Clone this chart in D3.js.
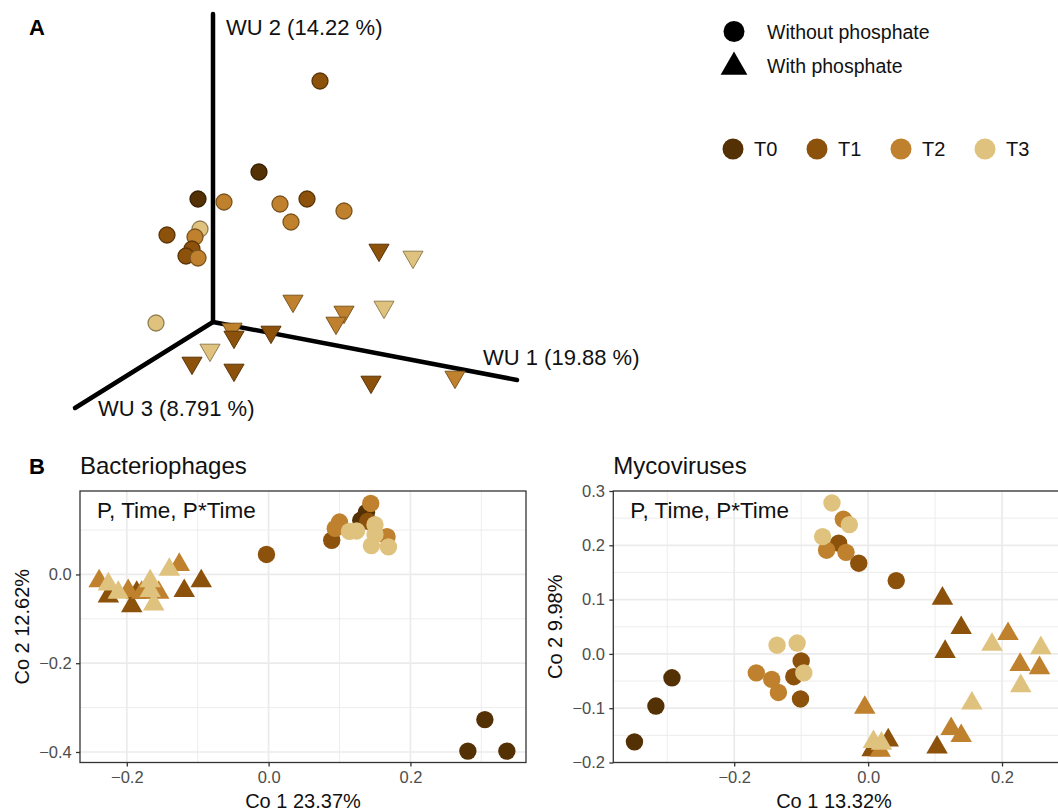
<!DOCTYPE html>
<html>
<head>
<meta charset="utf-8">
<script src="https://cdn.jsdelivr.net/npm/d3@7"></script>
<style>
  body { margin: 0; background: #fff; }
  svg { display: block; font-family: "Liberation Sans", Arial, Helvetica, sans-serif; }
</style>
</head>
<body>
<svg id="chart" width="1058" height="812"></svg>
<script>
// time points (BrBG browns)
let timeLabels = ["T0", "T1", "T2", "T3"];
let timeColors = ["#543005", "#8c510a", "#bf812d", "#dfc27d"];
let shapeLabels = ["Without phosphate", "With phosphate"];

// Panel A - 3D PCoA, points already projected on the page plane (origin = where the axes meet)
let pcoaAxisNames = ["WU 1 (19.88 %)", "WU 2 (14.22 %)", "WU 3 (8.791 %)"];
let pcoaAxisEnds = [[3.04, -0.58], [0, 3.08], [-1.38, -0.86]];
// [u, v, time]
let pcoaCircles = [
  [1.07, 2.41, 1], [0.46, 1.50, 0], [-0.15, 1.23, 0], [0.11, 1.20, 2], [0.67, 1.18, 2],
  [0.94, 1.23, 1], [0.78, 1.00, 2], [1.31, 1.11, 2], [-0.46, 0.87, 1], [-0.13, 0.93, 3],
  [-0.18, 0.85, 2], [-0.21, 0.73, 1], [-0.27, 0.66, 1], [-0.15, 0.64, 2], [-0.57, -0.01, 3]
];
let pcoaTriangles = [
  [1.66, 0.72, 1], [2.00, 0.65, 3], [0.80, 0.21, 2], [1.31, 0.10, 2], [1.23, -0.01, 2],
  [1.71, 0.15, 3], [0.19, -0.07, 2], [0.21, -0.15, 1], [0.58, -0.10, 1], [-0.03, -0.28, 3],
  [-0.21, -0.41, 1], [0.21, -0.48, 1], [1.58, -0.60, 1], [2.42, -0.55, 2]
];

// Panel B - Bacteriophages [Co1, Co2, time]
let phageCircles = [
  [0.305, -0.327, 0], [0.281, -0.398, 0], [0.336, -0.398, 0], [0.138, 0.140, 0], [0.130, 0.122, 0],
  [-0.003, 0.045, 1], [0.089, 0.077, 1], [0.140, 0.120, 1],
  [0.144, 0.160, 2], [0.100, 0.118, 2], [0.094, 0.104, 2], [0.167, 0.085, 2],
  [0.114, 0.097, 3], [0.124, 0.098, 3], [0.150, 0.112, 3], [0.150, 0.090, 3], [0.145, 0.065, 3], [0.169, 0.062, 3]
];
let phageTriangles = [
  [-0.226, -0.049, 1], [-0.186, -0.041, 1], [-0.193, -0.071, 1], [-0.119, -0.037, 1], [-0.095, -0.015, 1],
  [-0.239, -0.015, 2], [-0.198, -0.037, 2], [-0.179, -0.041, 2], [-0.155, -0.041, 2], [-0.126, 0.022, 2],
  [-0.226, -0.022, 3], [-0.212, -0.041, 3], [-0.167, -0.015, 3], [-0.167, -0.037, 3], [-0.162, -0.067, 3], [-0.140, 0.011, 3]
];
let phageXTicks = [-0.2, 0.0, 0.2];
let phageYTicks = [-0.4, -0.2, 0.0];

// Panel B - Mycoviruses [Co1, Co2, time]
let mycoCircles = [
  [-0.293, -0.044, 0], [-0.317, -0.096, 0], [-0.349, -0.162, 0],
  [-0.044, 0.204, 1], [-0.014, 0.167, 1], [0.042, 0.135, 1], [-0.100, -0.013, 1], [-0.111, -0.042, 1], [-0.101, -0.083, 1],
  [-0.037, 0.248, 2], [-0.062, 0.191, 2], [-0.033, 0.187, 2], [-0.167, -0.035, 2], [-0.144, -0.047, 2], [-0.134, -0.071, 2],
  [-0.054, 0.278, 3], [-0.028, 0.238, 3], [-0.068, 0.216, 3], [-0.136, 0.016, 3], [-0.106, 0.020, 3], [-0.096, -0.035, 3]
];
let mycoTriangles = [
  [0.111, 0.102, 1], [0.139, 0.048, 1], [0.115, 0.004, 1], [0.103, -0.172, 1], [0.030, -0.159, 1], [0.006, -0.177, 1],
  [0.209, 0.037, 2], [0.227, -0.020, 2], [0.256, -0.026, 2], [-0.005, -0.099, 2], [0.124, -0.138, 2], [0.139, -0.151, 2], [0.018, -0.178, 2],
  [0.185, 0.017, 3], [0.258, 0.011, 3], [0.228, -0.059, 3], [0.155, -0.091, 3], [0.008, -0.162, 3], [0.020, -0.165, 3]
];
let mycoXTicks = [-0.2, 0.0, 0.2];
let mycoYTicks = [-0.2, -0.1, 0.0, 0.1, 0.2, 0.3];

let svg = d3.select("#chart");

// ---------- panel A ----------
let xA = d3.scaleLinear().domain([0, 1]).range([213, 313]);
let yA = d3.scaleLinear().domain([0, 1]).range([322, 222]);

svg.append("text").attr("x", 29).attr("y", 35)
  .style("font-weight", "bold").style("font-size", "22px").text("A");

let gA = svg.append("g");
pcoaAxisEnds.forEach(function(e) {
  gA.append("line")
    .attr("x1", xA(0)).attr("y1", yA(0))
    .attr("x2", xA(e[0])).attr("y2", yA(e[1]))
    .attr("stroke", "#000").attr("stroke-width", 4.5).attr("stroke-linecap", "round");
});

let axisLabelPos = [[483, 365], [226, 35], [98, 416]];
pcoaAxisNames.forEach(function(name, i) {
  gA.append("text").attr("x", axisLabelPos[i][0]).attr("y", axisLabelPos[i][1])
    .style("font-size", "22px").attr("fill", "#111").text(name);
});

let downTri = d3.symbol().type(d3.symbolTriangle).size(175);
gA.selectAll(".tA").data(pcoaTriangles).join("path")
  .attr("d", downTri)
  .attr("transform", d => "translate(" + xA(d[0]) + "," + yA(d[1]) + ") rotate(180)")
  .attr("fill", d => timeColors[d[2]])
  .attr("stroke", d => d3.color(timeColors[d[2]]).darker(1.2))
  .attr("stroke-width", 1);

gA.selectAll(".cA").data(pcoaCircles).join("circle")
  .attr("cx", d => xA(d[0])).attr("cy", d => yA(d[1])).attr("r", 8)
  .attr("fill", d => timeColors[d[2]])
  .attr("stroke", d => d3.color(timeColors[d[2]]).darker(1.2))
  .attr("stroke-width", 1.3);

// ---------- legends ----------
let leg = svg.append("g");
leg.append("circle").attr("cx", 734).attr("cy", 31.5).attr("r", 10.5).attr("fill", "#000");
leg.append("path").attr("d", d3.symbol().type(d3.symbolTriangle).size(310))
  .attr("transform", "translate(734,67)").attr("fill", "#000");
shapeLabels.forEach(function(s, i) {
  leg.append("text").attr("x", 767).attr("y", 38.5 + i * 34.5)
    .style("font-size", "19.5px").attr("fill", "#111").text(s);
});

let colLegX = [733, 817, 901, 985];
timeLabels.forEach(function(t, i) {
  leg.append("circle").attr("cx", colLegX[i]).attr("cy", 149).attr("r", 10.5).attr("fill", timeColors[i]);
  leg.append("text").attr("x", colLegX[i] + 21).attr("y", 156)
    .style("font-size", "20px").attr("fill", "#111").text(t);
});

// ---------- panel B ----------
svg.append("text").attr("x", 29).attr("y", 474)
  .style("font-weight", "bold").style("font-size", "22px").text("B");

function minorTicks(ticks, domain) {
  let step = ticks[1] - ticks[0];
  let out = [];
  for (let i = -1; i < ticks.length; i++) {
    let m = ticks[0] + step * (i + 0.5);
    if (m > domain[0] && m < domain[1]) out.push(m);
  }
  return out;
}

function drawScatter(p) {
  let x = d3.scaleLinear().domain(p.xDomain).range([p.left, p.right]);
  let y = d3.scaleLinear().domain(p.yDomain).range([p.bottom, p.top]);
  let g = svg.append("g");

  g.append("defs").append("clipPath").attr("id", p.id)
    .append("rect").attr("x", p.left).attr("y", p.top)
    .attr("width", p.right - p.left).attr("height", p.bottom - p.top);

  // grid
  let grid = g.append("g");
  minorTicks(p.xTicks, p.xDomain).forEach(function(v) {
    grid.append("line").attr("x1", x(v)).attr("x2", x(v)).attr("y1", p.top).attr("y2", p.bottom)
      .attr("stroke", "#ebebeb").attr("stroke-width", 0.9);
  });
  minorTicks(p.yTicks, p.yDomain).forEach(function(v) {
    grid.append("line").attr("y1", y(v)).attr("y2", y(v)).attr("x1", p.left).attr("x2", p.right)
      .attr("stroke", "#ebebeb").attr("stroke-width", 0.9);
  });
  p.xTicks.forEach(function(v) {
    grid.append("line").attr("x1", x(v)).attr("x2", x(v)).attr("y1", p.top).attr("y2", p.bottom)
      .attr("stroke", "#ebebeb").attr("stroke-width", 1.7);
  });
  p.yTicks.forEach(function(v) {
    grid.append("line").attr("y1", y(v)).attr("y2", y(v)).attr("x1", p.left).attr("x2", p.right)
      .attr("stroke", "#ebebeb").attr("stroke-width", 1.7);
  });

  // points
  let pts = g.append("g").attr("clip-path", "url(#" + p.id + ")");
  let tri = d3.symbol().type(d3.symbolTriangle).size(200);
  pts.selectAll(".c").data(p.circles).join("circle")
    .attr("cx", d => x(d[0])).attr("cy", d => y(d[1])).attr("r", 8.7)
    .attr("fill", d => timeColors[d[2]]);
  pts.selectAll(".t").data(p.triangles).join("path")
    .attr("d", tri)
    .attr("transform", d => "translate(" + x(d[0]) + "," + y(d[1]) + ")")
    .attr("fill", d => timeColors[d[2]]);

  // border
  g.append("rect").attr("x", p.left).attr("y", p.top)
    .attr("width", p.right - p.left).attr("height", p.bottom - p.top)
    .attr("fill", "none").attr("stroke", "#333").attr("stroke-width", 1.3);

  // axes
  let fmt = d3.format(".1f");
  let ax = g.append("g").attr("transform", "translate(0," + p.bottom + ")")
    .call(d3.axisBottom(x).tickValues(p.xTicks).tickFormat(fmt).tickSize(4).tickPadding(5));
  let ay = g.append("g").attr("transform", "translate(" + p.left + ",0)")
    .call(d3.axisLeft(y).tickValues(p.yTicks).tickFormat(fmt).tickSize(4).tickPadding(4.3));
  [ax, ay].forEach(function(a) {
    a.select(".domain").remove();
    a.selectAll("line").attr("stroke", "#333").attr("stroke-width", 1.3);
    a.selectAll("text").attr("fill", "#4d4d4d").style("font-size", "16.5px")
      .style("font-family", "\"Liberation Sans\", Arial, sans-serif");
  });

  // titles
  g.append("text").attr("x", p.left).attr("y", 474).style("font-size", "24px")
    .attr("fill", "#111").text(p.title);
  g.append("text").attr("x", p.left + 17).attr("y", 518).style("font-size", "22.5px")
    .attr("fill", "#111").text("P, Time, P*Time");
  g.append("text").attr("x", p.xTitleX).attr("y", 808).attr("text-anchor", "middle")
    .style("font-size", "20px").attr("fill", "#111").text(p.xTitle);
  g.append("text")
    .attr("transform", "translate(" + p.yTitleX + "," + ((p.top + p.bottom) / 2) + ") rotate(-90)")
    .attr("text-anchor", "middle").style("font-size", "20px").attr("fill", "#111").text(p.yTitle);
}

drawScatter({
  id: "clipPhage", left: 80, right: 526, top: 491, bottom: 762.5,
  xDomain: [-0.266, 0.363], yDomain: [-0.4237, 0.188],
  xTicks: phageXTicks, yTicks: phageYTicks,
  circles: phageCircles, triangles: phageTriangles,
  title: "Bacteriophages", xTitle: "Co 1 23.37%", yTitle: "Co 2 12.62%",
  xTitleX: 303, yTitleX: 28.5
});

drawScatter({
  id: "clipMyco", left: 613.3, right: 1060, top: 491, bottom: 762.5,
  xDomain: [-0.3806, 0.2866], yDomain: [-0.2, 0.3],
  xTicks: mycoXTicks, yTicks: mycoYTicks,
  circles: mycoCircles, triangles: mycoTriangles,
  title: "Mycoviruses", xTitle: "Co 1 13.32%", yTitle: "Co 2 9.98%",
  xTitleX: 834, yTitleX: 562
});
</script>
</body>
</html>
